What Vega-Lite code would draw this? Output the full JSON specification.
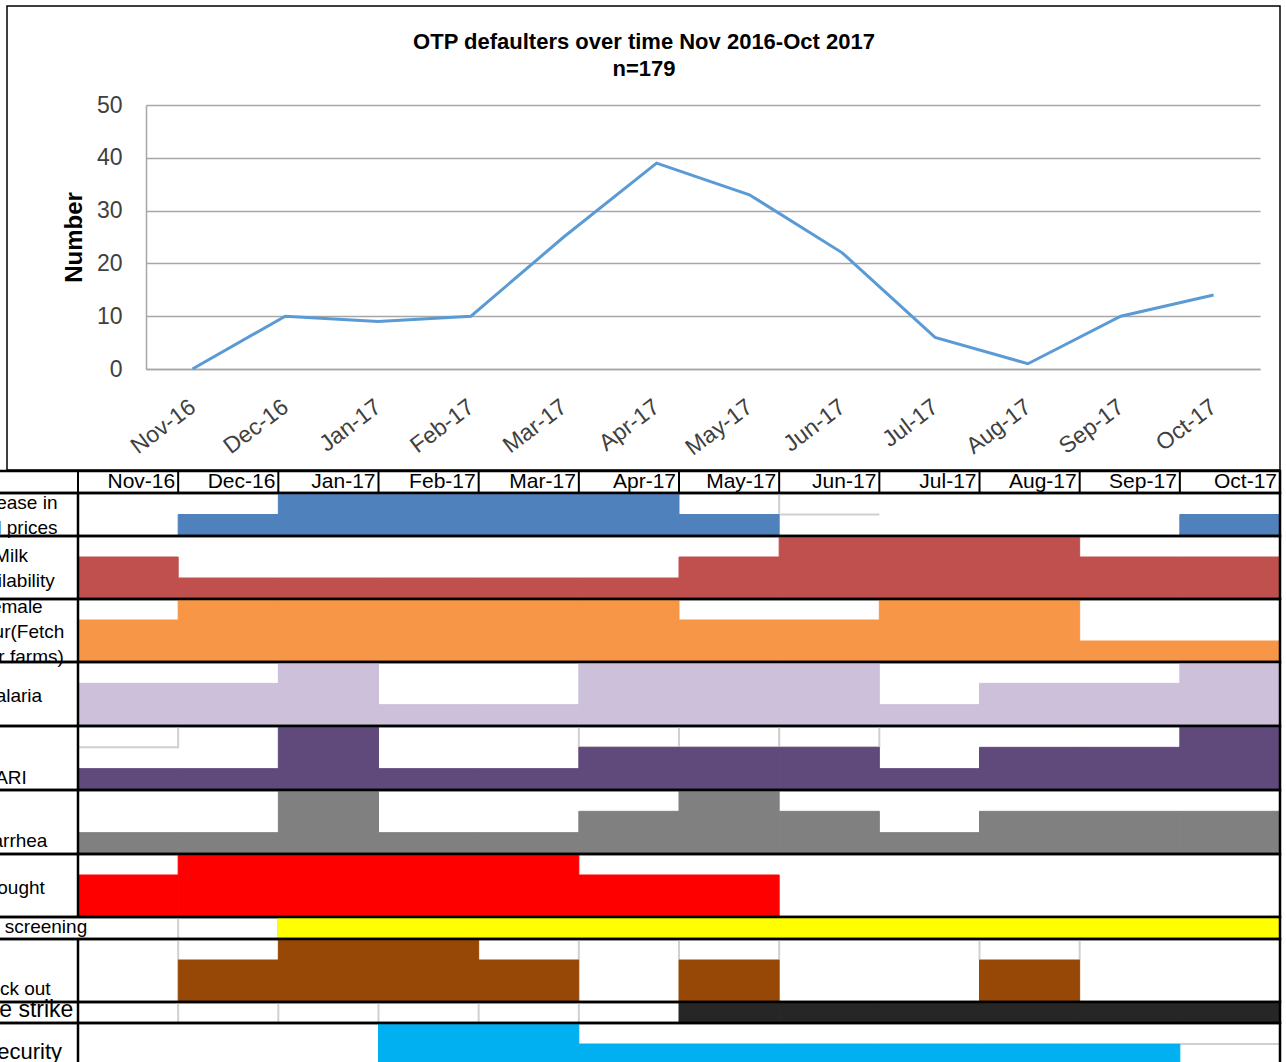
{
  "$schema": "https://vega.github.io/schema/vega-lite/v6.json",
  "width": 1114,
  "height": 264,
  "padding": {"left": 146, "top": 105, "right": 26, "bottom": 693},
  "autosize": {"type": "none"},
  "config": {"view": {"stroke": null}, "font": "Liberation Sans"},
  "title": {
    "text": "OTP defaulters over time Nov 2016-Oct 2017",
    "subtitle": "n=179",
    "anchor": "middle",
    "frame": "group",
    "dx": -59,
    "offset": -76,
    "fontSize": 22,
    "subtitleFontSize": 22,
    "fontWeight": "bold",
    "subtitleFontWeight": "bold",
    "color": "#000",
    "subtitleColor": "#000",
    "subtitlePadding": 5
  },
  "datasets": {
    "defaulters": [
      {"month": "Nov-16", "defaulters": 0},
      {"month": "Dec-16", "defaulters": 10},
      {"month": "Jan-17", "defaulters": 9},
      {"month": "Feb-17", "defaulters": 10},
      {"month": "Mar-17", "defaulters": 25},
      {"month": "Apr-17", "defaulters": 39},
      {"month": "May-17", "defaulters": 33},
      {"month": "Jun-17", "defaulters": 22},
      {"month": "Jul-17", "defaulters": 6},
      {"month": "Aug-17", "defaulters": 1},
      {"month": "Sep-17", "defaulters": 10},
      {"month": "Oct-17", "defaulters": 14}
    ],
    "rows": [
      {"row": "Increase in food prices", "label": "Increase in\nfood prices"},
      {"row": "Milk availability", "label": "Milk\navailability"},
      {"row": "Female labour(Fetch water farms)", "label": "Female\nlabour(Fetch\nwater farms)"},
      {"row": "Malaria", "label": "Malaria"},
      {"row": "ARI", "label": "ARI"},
      {"row": "Diarrhea", "label": "Diarrhea"},
      {"row": "Drought", "label": "Drought"},
      {"row": "Nutrition screening", "label": "Nutrition screening"},
      {"row": "Stock out", "label": "Stock out"},
      {"row": "Nurse strike", "label": "Nurse strike"},
      {"row": "Insecurity", "label": "Insecurity"}
    ],
    "calendar": [
      {"row": "Increase in food prices", "month": "Dec-16", "level": 1},
      {"row": "Increase in food prices", "month": "Jan-17", "level": 2},
      {"row": "Increase in food prices", "month": "Feb-17", "level": 2},
      {"row": "Increase in food prices", "month": "Mar-17", "level": 2},
      {"row": "Increase in food prices", "month": "Apr-17", "level": 2},
      {"row": "Increase in food prices", "month": "May-17", "level": 1},
      {"row": "Increase in food prices", "month": "Oct-17", "level": 1},
      {"row": "Milk availability", "month": "Nov-16", "level": 2},
      {"row": "Milk availability", "month": "Dec-16", "level": 1},
      {"row": "Milk availability", "month": "Jan-17", "level": 1},
      {"row": "Milk availability", "month": "Feb-17", "level": 1},
      {"row": "Milk availability", "month": "Mar-17", "level": 1},
      {"row": "Milk availability", "month": "Apr-17", "level": 1},
      {"row": "Milk availability", "month": "May-17", "level": 2},
      {"row": "Milk availability", "month": "Jun-17", "level": 3},
      {"row": "Milk availability", "month": "Jul-17", "level": 3},
      {"row": "Milk availability", "month": "Aug-17", "level": 3},
      {"row": "Milk availability", "month": "Sep-17", "level": 2},
      {"row": "Milk availability", "month": "Oct-17", "level": 2},
      {"row": "Female labour(Fetch water farms)", "month": "Nov-16", "level": 2},
      {"row": "Female labour(Fetch water farms)", "month": "Dec-16", "level": 3},
      {"row": "Female labour(Fetch water farms)", "month": "Jan-17", "level": 3},
      {"row": "Female labour(Fetch water farms)", "month": "Feb-17", "level": 3},
      {"row": "Female labour(Fetch water farms)", "month": "Mar-17", "level": 3},
      {"row": "Female labour(Fetch water farms)", "month": "Apr-17", "level": 3},
      {"row": "Female labour(Fetch water farms)", "month": "May-17", "level": 2},
      {"row": "Female labour(Fetch water farms)", "month": "Jun-17", "level": 2},
      {"row": "Female labour(Fetch water farms)", "month": "Jul-17", "level": 3},
      {"row": "Female labour(Fetch water farms)", "month": "Aug-17", "level": 3},
      {"row": "Female labour(Fetch water farms)", "month": "Sep-17", "level": 1},
      {"row": "Female labour(Fetch water farms)", "month": "Oct-17", "level": 1},
      {"row": "Malaria", "month": "Nov-16", "level": 2},
      {"row": "Malaria", "month": "Dec-16", "level": 2},
      {"row": "Malaria", "month": "Jan-17", "level": 3},
      {"row": "Malaria", "month": "Feb-17", "level": 1},
      {"row": "Malaria", "month": "Mar-17", "level": 1},
      {"row": "Malaria", "month": "Apr-17", "level": 3},
      {"row": "Malaria", "month": "May-17", "level": 3},
      {"row": "Malaria", "month": "Jun-17", "level": 3},
      {"row": "Malaria", "month": "Jul-17", "level": 1},
      {"row": "Malaria", "month": "Aug-17", "level": 2},
      {"row": "Malaria", "month": "Sep-17", "level": 2},
      {"row": "Malaria", "month": "Oct-17", "level": 3},
      {"row": "ARI", "month": "Nov-16", "level": 1},
      {"row": "ARI", "month": "Dec-16", "level": 1},
      {"row": "ARI", "month": "Jan-17", "level": 3},
      {"row": "ARI", "month": "Feb-17", "level": 1},
      {"row": "ARI", "month": "Mar-17", "level": 1},
      {"row": "ARI", "month": "Apr-17", "level": 2},
      {"row": "ARI", "month": "May-17", "level": 2},
      {"row": "ARI", "month": "Jun-17", "level": 2},
      {"row": "ARI", "month": "Jul-17", "level": 1},
      {"row": "ARI", "month": "Aug-17", "level": 2},
      {"row": "ARI", "month": "Sep-17", "level": 2},
      {"row": "ARI", "month": "Oct-17", "level": 3},
      {"row": "Diarrhea", "month": "Nov-16", "level": 1},
      {"row": "Diarrhea", "month": "Dec-16", "level": 1},
      {"row": "Diarrhea", "month": "Jan-17", "level": 3},
      {"row": "Diarrhea", "month": "Feb-17", "level": 1},
      {"row": "Diarrhea", "month": "Mar-17", "level": 1},
      {"row": "Diarrhea", "month": "Apr-17", "level": 2},
      {"row": "Diarrhea", "month": "May-17", "level": 3},
      {"row": "Diarrhea", "month": "Jun-17", "level": 2},
      {"row": "Diarrhea", "month": "Jul-17", "level": 1},
      {"row": "Diarrhea", "month": "Aug-17", "level": 2},
      {"row": "Diarrhea", "month": "Sep-17", "level": 2},
      {"row": "Diarrhea", "month": "Oct-17", "level": 2},
      {"row": "Drought", "month": "Nov-16", "level": 2},
      {"row": "Drought", "month": "Dec-16", "level": 3},
      {"row": "Drought", "month": "Jan-17", "level": 3},
      {"row": "Drought", "month": "Feb-17", "level": 3},
      {"row": "Drought", "month": "Mar-17", "level": 3},
      {"row": "Drought", "month": "Apr-17", "level": 2},
      {"row": "Drought", "month": "May-17", "level": 2},
      {"row": "Nutrition screening", "month": "Jan-17", "level": 1},
      {"row": "Nutrition screening", "month": "Feb-17", "level": 1},
      {"row": "Nutrition screening", "month": "Mar-17", "level": 1},
      {"row": "Nutrition screening", "month": "Apr-17", "level": 1},
      {"row": "Nutrition screening", "month": "May-17", "level": 1},
      {"row": "Nutrition screening", "month": "Jun-17", "level": 1},
      {"row": "Nutrition screening", "month": "Jul-17", "level": 1},
      {"row": "Nutrition screening", "month": "Aug-17", "level": 1},
      {"row": "Nutrition screening", "month": "Sep-17", "level": 1},
      {"row": "Nutrition screening", "month": "Oct-17", "level": 1},
      {"row": "Stock out", "month": "Dec-16", "level": 2},
      {"row": "Stock out", "month": "Jan-17", "level": 3},
      {"row": "Stock out", "month": "Feb-17", "level": 3},
      {"row": "Stock out", "month": "Mar-17", "level": 2},
      {"row": "Stock out", "month": "May-17", "level": 2},
      {"row": "Stock out", "month": "Aug-17", "level": 2},
      {"row": "Nurse strike", "month": "May-17", "level": 1},
      {"row": "Nurse strike", "month": "Jun-17", "level": 1},
      {"row": "Nurse strike", "month": "Jul-17", "level": 1},
      {"row": "Nurse strike", "month": "Aug-17", "level": 1},
      {"row": "Nurse strike", "month": "Sep-17", "level": 1},
      {"row": "Nurse strike", "month": "Oct-17", "level": 1},
      {"row": "Insecurity", "month": "Feb-17", "level": 3},
      {"row": "Insecurity", "month": "Mar-17", "level": 3},
      {"row": "Insecurity", "month": "Apr-17", "level": 2},
      {"row": "Insecurity", "month": "May-17", "level": 2},
      {"row": "Insecurity", "month": "Jun-17", "level": 2},
      {"row": "Insecurity", "month": "Jul-17", "level": 2},
      {"row": "Insecurity", "month": "Aug-17", "level": 2},
      {"row": "Insecurity", "month": "Sep-17", "level": 2}
    ]
  },
  "resolve": {"scale": {"x": "independent", "y": "independent"}},
  "layer": [
    {
      "data": {"values": [{}]},
      "mark": {"type": "rect", "filled": false, "stroke": "#000", "strokeWidth": 1.5},
      "encoding": {
        "x": {"datum": 0, "scale": {"domain": [0, 1], "range": [-139, 1134]}, "axis": null},
        "x2": {"datum": 1},
        "y": {"datum": 0, "scale": {"domain": [0, 1], "range": [365, -99]}, "axis": null},
        "y2": {"datum": 1}
      }
    },
    {
      "data": {"name": "defaulters"},
      "mark": {"type": "line", "color": "#5b9bd5", "strokeWidth": 3},
      "encoding": {
        "x": {
          "field": "month", "type": "nominal", "sort": null,
          "axis": {
            "orient": "bottom", "title": null, "labelAngle": -37, "labelAlign": "right",
            "labelBaseline": "middle", "labelPadding": 35, "labelFontSize": 23,
            "labelColor": "#404040", "ticks": false, "domainColor": "#a6a6a6",
            "domainWidth": 1.5, "grid": false, "labelOverlap": false
          }
        },
        "y": {
          "field": "defaulters", "type": "quantitative",
          "scale": {"domain": [0, 50]},
          "axis": {
            "orient": "left", "title": "Number", "titleFontSize": 24, "titleFontWeight": "bold",
            "titleColor": "#000", "titlePadding": 10, "labelFontSize": 23, "labelColor": "#404040",
            "labelPadding": 24, "ticks": false, "domainColor": "#a6a6a6", "domainWidth": 1.5,
            "gridColor": "#a6a6a6", "gridWidth": 1.5, "values": [0, 10, 20, 30, 40, 50], "grid": true
          }
        }
      }
    },
    {
      "data": {"name": "defaulters"},
      "layer": [
        {
          "mark": {"type": "text", "align": "right", "baseline": "alphabetic", "dx": -3, "fontSize": 21, "color": "#000"},
          "encoding": {
            "x": {"field": "month", "type": "nominal", "bandPosition": 1, "axis": null,
                  "scale": {"type": "band", "domain": ["Nov-16","Dec-16","Jan-17","Feb-17","Mar-17","Apr-17","May-17","Jun-17","Jul-17","Aug-17","Sep-17","Oct-17"], "range": [-68, 1134], "paddingInner": 0, "paddingOuter": 0}},
            "y": {"datum": 0.23, "scale": {"domain": [0, 1], "range": [388, 366]}, "axis": null},
            "text": {"field": "month"}
          }
        },
        {
          "mark": {"type": "rule", "color": "#000", "strokeWidth": 2},
          "encoding": {
            "x": {"field": "month", "type": "nominal", "bandPosition": 0, "axis": null},
            "y": {"datum": 0, "axis": null},
            "y2": {"datum": 1}
          }
        }
      ]
    },
    {
      "data": {"values": [{}]},
      "mark": {"type": "rect", "filled": false, "stroke": "#000", "strokeWidth": 2.5, "xOffset": -80},
      "encoding": {
        "x": {"datum": "Nov-16", "bandPosition": 0, "axis": null,
              "scale": {"type": "band", "domain": ["Nov-16","Dec-16","Jan-17","Feb-17","Mar-17","Apr-17","May-17","Jun-17","Jul-17","Aug-17","Sep-17","Oct-17"], "range": [-68, 1134], "paddingInner": 0, "paddingOuter": 0}},
        "x2": {"datum": "Oct-17", "bandPosition": 1},
        "y": {"datum": 0, "scale": {"domain": [0, 1], "range": [388, 366]}, "axis": null},
        "y2": {"datum": 1}
      }
    },
    {
      "layer": [
        {
          "data": {"name": "defaulters"},
          "transform": [{"filter": {"field": "month", "oneOf": ["Jun-17"]}}],
          "layer": [
            {
              "mark": {"type": "rule", "color": "#d0d0d0", "strokeWidth": 2},
              "encoding": {
                "x": {"field": "month", "type": "nominal", "bandPosition": 0, "axis": null,
                      "scale": {"type": "band", "domain": ["Nov-16","Dec-16","Jan-17","Feb-17","Mar-17","Apr-17","May-17","Jun-17","Jul-17","Aug-17","Sep-17","Oct-17"], "range": [-68, 1134], "paddingInner": 0, "paddingOuter": 0}},
                "x2": {"field": "month", "bandPosition": 1},
                "y": {"datum": 1, "scale": {"domain": [0, 2], "range": [431, 388]}, "axis": null}
              }
            },
            {
              "mark": {"type": "rule", "color": "#d0d0d0", "strokeWidth": 2},
              "encoding": {
                "x": {"field": "month", "type": "nominal", "bandPosition": 0, "axis": null},
                "y": {"datum": 1, "axis": null},
                "y2": {"datum": 2}
              }
            }
          ]
        },
        {
          "data": {"name": "calendar"},
          "transform": [{"filter": "datum.row === 'Increase in food prices'"}],
          "mark": {"type": "bar", "color": "#4f81bd", "stroke": "#4f81bd", "strokeWidth": 1},
          "encoding": {
            "x": {"field": "month", "type": "nominal", "axis": null},
            "y": {"field": "level", "type": "quantitative", "axis": null},
            "y2": {"datum": 0}
          }
        },
        {
          "data": {"name": "rows"},
          "transform": [{"filter": "datum.row === 'Increase in food prices'"}],
          "layer": [
            {
              "mark": {"type": "text", "align": "center", "baseline": "middle", "dx": -67, "fontSize": 19, "lineBreak": "\n", "lineHeight": 25, "color": "#000"},
              "encoding": {"x": {"datum": "Nov-16", "bandPosition": 0, "axis": null}, "y": {"datum": 1.53, "axis": null}, "text": {"field": "label"}}
            },
            {
              "mark": {"type": "rect", "filled": false, "stroke": "#000", "strokeWidth": 2.5, "xOffset": -80},
              "encoding": {"x": {"datum": "Nov-16", "bandPosition": 0, "axis": null}, "x2": {"datum": "Oct-17", "bandPosition": 1}, "y": {"datum": 0, "axis": null}, "y2": {"datum": 2}}
            },
            {
              "mark": {"type": "rule", "color": "#000", "strokeWidth": 2.5},
              "encoding": {"x": {"datum": "Nov-16", "bandPosition": 0, "axis": null}, "y": {"datum": 0, "axis": null}, "y2": {"datum": 2}}
            }
          ]
        }
      ]
    },
    {
      "layer": [
        {
          "data": {"name": "calendar"},
          "transform": [{"filter": "datum.row === 'Milk availability'"}],
          "mark": {"type": "bar", "color": "#c0504d", "stroke": "#c0504d", "strokeWidth": 1},
          "encoding": {
            "x": {"field": "month", "type": "nominal", "axis": null,
                  "scale": {"type": "band", "domain": ["Nov-16","Dec-16","Jan-17","Feb-17","Mar-17","Apr-17","May-17","Jun-17","Jul-17","Aug-17","Sep-17","Oct-17"], "range": [-68, 1134], "paddingInner": 0, "paddingOuter": 0}},
            "y": {"field": "level", "type": "quantitative", "scale": {"domain": [0, 3], "range": [494, 431]}, "axis": null},
            "y2": {"datum": 0}
          }
        },
        {
          "data": {"name": "rows"},
          "transform": [{"filter": "datum.row === 'Milk availability'"}],
          "layer": [
            {
              "mark": {"type": "text", "align": "center", "baseline": "middle", "dx": -67, "fontSize": 19, "lineBreak": "\n", "lineHeight": 25, "color": "#000"},
              "encoding": {"x": {"datum": "Nov-16", "bandPosition": 0, "axis": null}, "y": {"datum": 2.05, "axis": null}, "text": {"field": "label"}}
            },
            {
              "mark": {"type": "rect", "filled": false, "stroke": "#000", "strokeWidth": 2.5, "xOffset": -80},
              "encoding": {"x": {"datum": "Nov-16", "bandPosition": 0, "axis": null}, "x2": {"datum": "Oct-17", "bandPosition": 1}, "y": {"datum": 0, "axis": null}, "y2": {"datum": 3}}
            },
            {
              "mark": {"type": "rule", "color": "#000", "strokeWidth": 2.5},
              "encoding": {"x": {"datum": "Nov-16", "bandPosition": 0, "axis": null}, "y": {"datum": 0, "axis": null}, "y2": {"datum": 3}}
            }
          ]
        }
      ]
    },
    {
      "layer": [
        {
          "data": {"name": "calendar"},
          "transform": [{"filter": "datum.row === 'Female labour(Fetch water farms)'"}],
          "mark": {"type": "bar", "color": "#f79646", "stroke": "#f79646", "strokeWidth": 1},
          "encoding": {
            "x": {"field": "month", "type": "nominal", "axis": null,
                  "scale": {"type": "band", "domain": ["Nov-16","Dec-16","Jan-17","Feb-17","Mar-17","Apr-17","May-17","Jun-17","Jul-17","Aug-17","Sep-17","Oct-17"], "range": [-68, 1134], "paddingInner": 0, "paddingOuter": 0}},
            "y": {"field": "level", "type": "quantitative", "scale": {"domain": [0, 3], "range": [557, 494]}, "axis": null},
            "y2": {"datum": 0}
          }
        },
        {
          "data": {"name": "rows"},
          "transform": [{"filter": "datum.row === 'Female labour(Fetch water farms)'"}],
          "layer": [
            {
              "mark": {"type": "text", "align": "center", "baseline": "middle", "dx": -67, "fontSize": 19, "lineBreak": "\n", "lineHeight": 25, "color": "#000"},
              "encoding": {"x": {"datum": "Nov-16", "bandPosition": 0, "axis": null}, "y": {"datum": 2.62, "axis": null}, "text": {"field": "label"}}
            },
            {
              "mark": {"type": "rect", "filled": false, "stroke": "#000", "strokeWidth": 2.5, "xOffset": -80},
              "encoding": {"x": {"datum": "Nov-16", "bandPosition": 0, "axis": null}, "x2": {"datum": "Oct-17", "bandPosition": 1}, "y": {"datum": 0, "axis": null}, "y2": {"datum": 3}}
            },
            {
              "mark": {"type": "rule", "color": "#000", "strokeWidth": 2.5},
              "encoding": {"x": {"datum": "Nov-16", "bandPosition": 0, "axis": null}, "y": {"datum": 0, "axis": null}, "y2": {"datum": 3}}
            }
          ]
        }
      ]
    },
    {
      "layer": [
        {
          "data": {"name": "calendar"},
          "transform": [{"filter": "datum.row === 'Malaria'"}],
          "mark": {"type": "bar", "color": "#ccc0da", "stroke": "#ccc0da", "strokeWidth": 1},
          "encoding": {
            "x": {"field": "month", "type": "nominal", "axis": null,
                  "scale": {"type": "band", "domain": ["Nov-16","Dec-16","Jan-17","Feb-17","Mar-17","Apr-17","May-17","Jun-17","Jul-17","Aug-17","Sep-17","Oct-17"], "range": [-68, 1134], "paddingInner": 0, "paddingOuter": 0}},
            "y": {"field": "level", "type": "quantitative", "scale": {"domain": [0, 3], "range": [621, 557]}, "axis": null},
            "y2": {"datum": 0}
          }
        },
        {
          "data": {"name": "rows"},
          "transform": [{"filter": "datum.row === 'Malaria'"}],
          "layer": [
            {
              "mark": {"type": "text", "align": "center", "baseline": "middle", "dx": -67, "fontSize": 19, "lineBreak": "\n", "lineHeight": 25, "color": "#000"},
              "encoding": {"x": {"datum": "Nov-16", "bandPosition": 0, "axis": null}, "y": {"datum": 1.41, "axis": null}, "text": {"field": "label"}}
            },
            {
              "mark": {"type": "rect", "filled": false, "stroke": "#000", "strokeWidth": 2.5, "xOffset": -80},
              "encoding": {"x": {"datum": "Nov-16", "bandPosition": 0, "axis": null}, "x2": {"datum": "Oct-17", "bandPosition": 1}, "y": {"datum": 0, "axis": null}, "y2": {"datum": 3}}
            },
            {
              "mark": {"type": "rule", "color": "#000", "strokeWidth": 2.5},
              "encoding": {"x": {"datum": "Nov-16", "bandPosition": 0, "axis": null}, "y": {"datum": 0, "axis": null}, "y2": {"datum": 3}}
            }
          ]
        }
      ]
    },
    {
      "layer": [
        {
          "data": {"name": "defaulters"},
          "transform": [{"filter": {"field": "month", "oneOf": ["Nov-16", "Apr-17", "May-17", "Jun-17"]}}],
          "mark": {"type": "rect", "filled": false, "stroke": "#d0d0d0", "strokeWidth": 2},
          "encoding": {
            "x": {"field": "month", "type": "nominal", "axis": null,
                  "scale": {"type": "band", "domain": ["Nov-16","Dec-16","Jan-17","Feb-17","Mar-17","Apr-17","May-17","Jun-17","Jul-17","Aug-17","Sep-17","Oct-17"], "range": [-68, 1134], "paddingInner": 0, "paddingOuter": 0}},
            "y": {"datum": 2, "scale": {"domain": [0, 3], "range": [685, 621]}, "axis": null},
            "y2": {"datum": 3}
          }
        },
        {
          "data": {"name": "calendar"},
          "transform": [{"filter": "datum.row === 'ARI'"}],
          "mark": {"type": "bar", "color": "#604a7b", "stroke": "#604a7b", "strokeWidth": 1},
          "encoding": {
            "x": {"field": "month", "type": "nominal", "axis": null},
            "y": {"field": "level", "type": "quantitative", "axis": null},
            "y2": {"datum": 0}
          }
        },
        {
          "data": {"name": "rows"},
          "transform": [{"filter": "datum.row === 'ARI'"}],
          "layer": [
            {
              "mark": {"type": "text", "align": "center", "baseline": "middle", "dx": -67, "fontSize": 19, "lineBreak": "\n", "lineHeight": 25, "color": "#000"},
              "encoding": {"x": {"datum": "Nov-16", "bandPosition": 0, "axis": null}, "y": {"datum": 0.55, "axis": null}, "text": {"field": "label"}}
            },
            {
              "mark": {"type": "rect", "filled": false, "stroke": "#000", "strokeWidth": 2.5, "xOffset": -80},
              "encoding": {"x": {"datum": "Nov-16", "bandPosition": 0, "axis": null}, "x2": {"datum": "Oct-17", "bandPosition": 1}, "y": {"datum": 0, "axis": null}, "y2": {"datum": 3}}
            },
            {
              "mark": {"type": "rule", "color": "#000", "strokeWidth": 2.5},
              "encoding": {"x": {"datum": "Nov-16", "bandPosition": 0, "axis": null}, "y": {"datum": 0, "axis": null}, "y2": {"datum": 3}}
            }
          ]
        }
      ]
    },
    {
      "layer": [
        {
          "data": {"name": "calendar"},
          "transform": [{"filter": "datum.row === 'Diarrhea'"}],
          "mark": {"type": "bar", "color": "#808080", "stroke": "#808080", "strokeWidth": 1},
          "encoding": {
            "x": {"field": "month", "type": "nominal", "axis": null,
                  "scale": {"type": "band", "domain": ["Nov-16","Dec-16","Jan-17","Feb-17","Mar-17","Apr-17","May-17","Jun-17","Jul-17","Aug-17","Sep-17","Oct-17"], "range": [-68, 1134], "paddingInner": 0, "paddingOuter": 0}},
            "y": {"field": "level", "type": "quantitative", "scale": {"domain": [0, 3], "range": [749, 685]}, "axis": null},
            "y2": {"datum": 0}
          }
        },
        {
          "data": {"name": "rows"},
          "transform": [{"filter": "datum.row === 'Diarrhea'"}],
          "layer": [
            {
              "mark": {"type": "text", "align": "center", "baseline": "middle", "dx": -67, "fontSize": 19, "lineBreak": "\n", "lineHeight": 25, "color": "#000"},
              "encoding": {"x": {"datum": "Nov-16", "bandPosition": 0, "axis": null}, "y": {"datum": 0.6, "axis": null}, "text": {"field": "label"}}
            },
            {
              "mark": {"type": "rect", "filled": false, "stroke": "#000", "strokeWidth": 2.5, "xOffset": -80},
              "encoding": {"x": {"datum": "Nov-16", "bandPosition": 0, "axis": null}, "x2": {"datum": "Oct-17", "bandPosition": 1}, "y": {"datum": 0, "axis": null}, "y2": {"datum": 3}}
            },
            {
              "mark": {"type": "rule", "color": "#000", "strokeWidth": 2.5},
              "encoding": {"x": {"datum": "Nov-16", "bandPosition": 0, "axis": null}, "y": {"datum": 0, "axis": null}, "y2": {"datum": 3}}
            }
          ]
        }
      ]
    },
    {
      "layer": [
        {
          "data": {"name": "calendar"},
          "transform": [{"filter": "datum.row === 'Drought'"}],
          "mark": {"type": "bar", "color": "#ff0000", "stroke": "#ff0000", "strokeWidth": 1},
          "encoding": {
            "x": {"field": "month", "type": "nominal", "axis": null,
                  "scale": {"type": "band", "domain": ["Nov-16","Dec-16","Jan-17","Feb-17","Mar-17","Apr-17","May-17","Jun-17","Jul-17","Aug-17","Sep-17","Oct-17"], "range": [-68, 1134], "paddingInner": 0, "paddingOuter": 0}},
            "y": {"field": "level", "type": "quantitative", "scale": {"domain": [0, 3], "range": [812, 749]}, "axis": null},
            "y2": {"datum": 0}
          }
        },
        {
          "data": {"name": "rows"},
          "transform": [{"filter": "datum.row === 'Drought'"}],
          "layer": [
            {
              "mark": {"type": "text", "align": "center", "baseline": "middle", "dx": -67, "fontSize": 19, "lineBreak": "\n", "lineHeight": 25, "color": "#000"},
              "encoding": {"x": {"datum": "Nov-16", "bandPosition": 0, "axis": null}, "y": {"datum": 1.38, "axis": null}, "text": {"field": "label"}}
            },
            {
              "mark": {"type": "rect", "filled": false, "stroke": "#000", "strokeWidth": 2.5, "xOffset": -80},
              "encoding": {"x": {"datum": "Nov-16", "bandPosition": 0, "axis": null}, "x2": {"datum": "Oct-17", "bandPosition": 1}, "y": {"datum": 0, "axis": null}, "y2": {"datum": 3}}
            },
            {
              "mark": {"type": "rule", "color": "#000", "strokeWidth": 2.5},
              "encoding": {"x": {"datum": "Nov-16", "bandPosition": 0, "axis": null}, "y": {"datum": 0, "axis": null}, "y2": {"datum": 3}}
            }
          ]
        }
      ]
    },
    {
      "layer": [
        {
          "data": {"name": "defaulters"},
          "transform": [{"filter": {"field": "month", "oneOf": ["Dec-16", "Jan-17"]}}],
          "mark": {"type": "rule", "color": "#d0d0d0", "strokeWidth": 2},
          "encoding": {
            "x": {"field": "month", "type": "nominal", "bandPosition": 0, "axis": null,
                  "scale": {"type": "band", "domain": ["Nov-16","Dec-16","Jan-17","Feb-17","Mar-17","Apr-17","May-17","Jun-17","Jul-17","Aug-17","Sep-17","Oct-17"], "range": [-68, 1134], "paddingInner": 0, "paddingOuter": 0}},
            "y": {"datum": 0, "axis": null, "scale": {"domain": [0, 1], "range": [834, 812]}},
            "y2": {"datum": 1}
          }
        },
        {
          "data": {"name": "calendar"},
          "transform": [{"filter": "datum.row === 'Nutrition screening'"}],
          "mark": {"type": "bar", "color": "#ffff00", "stroke": "#ffff00", "strokeWidth": 1},
          "encoding": {
            "x": {"field": "month", "type": "nominal", "axis": null},
            "y": {"field": "level", "type": "quantitative", "axis": null},
            "y2": {"datum": 0}
          }
        },
        {
          "data": {"name": "rows"},
          "transform": [{"filter": "datum.row === 'Nutrition screening'"}],
          "layer": [
            {
              "mark": {"type": "text", "align": "center", "baseline": "middle", "dx": -70, "fontSize": 19, "lineBreak": "\n", "lineHeight": 25, "color": "#000"},
              "encoding": {"x": {"datum": "Nov-16", "bandPosition": 0, "axis": null}, "y": {"datum": 0.55, "axis": null}, "text": {"field": "label"}}
            },
            {
              "mark": {"type": "rect", "filled": false, "stroke": "#000", "strokeWidth": 2.5, "xOffset": -80},
              "encoding": {"x": {"datum": "Nov-16", "bandPosition": 0, "axis": null}, "x2": {"datum": "Oct-17", "bandPosition": 1}, "y": {"datum": 0, "axis": null}, "y2": {"datum": 1}}
            }
          ]
        }
      ]
    },
    {
      "layer": [
        {
          "data": {"name": "defaulters"},
          "transform": [{"filter": {"field": "month", "oneOf": ["Dec-16", "Apr-17", "May-17", "Jun-17", "Aug-17", "Sep-17"]}}],
          "mark": {"type": "rule", "color": "#d0d0d0", "strokeWidth": 2},
          "encoding": {
            "x": {"field": "month", "type": "nominal", "bandPosition": 0, "axis": null,
                  "scale": {"type": "band", "domain": ["Nov-16","Dec-16","Jan-17","Feb-17","Mar-17","Apr-17","May-17","Jun-17","Jul-17","Aug-17","Sep-17","Oct-17"], "range": [-68, 1134], "paddingInner": 0, "paddingOuter": 0}},
            "y": {"datum": 2, "axis": null, "scale": {"domain": [0, 3], "range": [897, 834]}},
            "y2": {"datum": 3}
          }
        },
        {
          "data": {"name": "calendar"},
          "transform": [{"filter": "datum.row === 'Stock out'"}],
          "mark": {"type": "bar", "color": "#974806", "stroke": "#974806", "strokeWidth": 1},
          "encoding": {
            "x": {"field": "month", "type": "nominal", "axis": null},
            "y": {"field": "level", "type": "quantitative", "axis": null},
            "y2": {"datum": 0}
          }
        },
        {
          "data": {"name": "rows"},
          "transform": [{"filter": "datum.row === 'Stock out'"}],
          "layer": [
            {
              "mark": {"type": "text", "align": "center", "baseline": "middle", "dx": -67, "fontSize": 19, "lineBreak": "\n", "lineHeight": 25, "color": "#000"},
              "encoding": {"x": {"datum": "Nov-16", "bandPosition": 0, "axis": null}, "y": {"datum": 0.6, "axis": null}, "text": {"field": "label"}}
            },
            {
              "mark": {"type": "rect", "filled": false, "stroke": "#000", "strokeWidth": 2.5, "xOffset": -80},
              "encoding": {"x": {"datum": "Nov-16", "bandPosition": 0, "axis": null}, "x2": {"datum": "Oct-17", "bandPosition": 1}, "y": {"datum": 0, "axis": null}, "y2": {"datum": 3}}
            },
            {
              "mark": {"type": "rule", "color": "#000", "strokeWidth": 2.5},
              "encoding": {"x": {"datum": "Nov-16", "bandPosition": 0, "axis": null}, "y": {"datum": 0, "axis": null}, "y2": {"datum": 3}}
            }
          ]
        }
      ]
    },
    {
      "layer": [
        {
          "data": {"name": "defaulters"},
          "transform": [{"filter": {"field": "month", "oneOf": ["Dec-16", "Jan-17", "Feb-17", "Mar-17", "Apr-17"]}}],
          "mark": {"type": "rule", "color": "#d0d0d0", "strokeWidth": 2},
          "encoding": {
            "x": {"field": "month", "type": "nominal", "bandPosition": 0, "axis": null,
                  "scale": {"type": "band", "domain": ["Nov-16","Dec-16","Jan-17","Feb-17","Mar-17","Apr-17","May-17","Jun-17","Jul-17","Aug-17","Sep-17","Oct-17"], "range": [-68, 1134], "paddingInner": 0, "paddingOuter": 0}},
            "y": {"datum": 0, "axis": null, "scale": {"domain": [0, 1], "range": [918, 897]}},
            "y2": {"datum": 1}
          }
        },
        {
          "data": {"name": "calendar"},
          "transform": [{"filter": "datum.row === 'Nurse strike'"}],
          "mark": {"type": "bar", "color": "#262626", "stroke": "#262626", "strokeWidth": 1},
          "encoding": {
            "x": {"field": "month", "type": "nominal", "axis": null},
            "y": {"field": "level", "type": "quantitative", "axis": null},
            "y2": {"datum": 0}
          }
        },
        {
          "data": {"name": "rows"},
          "transform": [{"filter": "datum.row === 'Nurse strike'"}],
          "layer": [
            {
              "mark": {"type": "text", "align": "center", "baseline": "middle", "dx": -66, "fontSize": 23, "color": "#000"},
              "encoding": {"x": {"datum": "Nov-16", "bandPosition": 0, "axis": null}, "y": {"datum": 0.6, "axis": null}, "text": {"field": "label"}}
            },
            {
              "mark": {"type": "rect", "filled": false, "stroke": "#000", "strokeWidth": 2.5, "xOffset": -80},
              "encoding": {"x": {"datum": "Nov-16", "bandPosition": 0, "axis": null}, "x2": {"datum": "Oct-17", "bandPosition": 1}, "y": {"datum": 0, "axis": null}, "y2": {"datum": 1}}
            },
            {
              "mark": {"type": "rule", "color": "#000", "strokeWidth": 2.5},
              "encoding": {"x": {"datum": "Nov-16", "bandPosition": 0, "axis": null}, "y": {"datum": 0, "axis": null}, "y2": {"datum": 1}}
            }
          ]
        }
      ]
    },
    {
      "layer": [
        {
          "data": {"name": "defaulters"},
          "transform": [{"filter": {"field": "month", "oneOf": ["Oct-17"]}}],
          "mark": {"type": "rule", "color": "#d0d0d0", "strokeWidth": 2},
          "encoding": {
            "x": {"field": "month", "type": "nominal", "bandPosition": 0, "axis": null,
                  "scale": {"type": "band", "domain": ["Nov-16","Dec-16","Jan-17","Feb-17","Mar-17","Apr-17","May-17","Jun-17","Jul-17","Aug-17","Sep-17","Oct-17"], "range": [-68, 1134], "paddingInner": 0, "paddingOuter": 0}},
            "x2": {"field": "month", "bandPosition": 1},
            "y": {"datum": 2, "axis": null, "scale": {"domain": [0, 3], "range": [981, 918]}}
          }
        },
        {
          "data": {"name": "calendar"},
          "transform": [{"filter": "datum.row === 'Insecurity'"}],
          "mark": {"type": "bar", "color": "#00b0f0", "stroke": "#00b0f0", "strokeWidth": 1},
          "encoding": {
            "x": {"field": "month", "type": "nominal", "axis": null},
            "y": {"field": "level", "type": "quantitative", "axis": null},
            "y2": {"datum": 0}
          }
        },
        {
          "data": {"name": "rows"},
          "transform": [{"filter": "datum.row === 'Insecurity'"}],
          "layer": [
            {
              "mark": {"type": "text", "align": "center", "baseline": "middle", "dx": -63, "fontSize": 22, "color": "#000"},
              "encoding": {"x": {"datum": "Nov-16", "bandPosition": 0, "axis": null}, "y": {"datum": 1.62, "axis": null}, "text": {"field": "label"}}
            },
            {
              "mark": {"type": "rect", "filled": false, "stroke": "#000", "strokeWidth": 2.5, "xOffset": -80},
              "encoding": {"x": {"datum": "Nov-16", "bandPosition": 0, "axis": null}, "x2": {"datum": "Oct-17", "bandPosition": 1}, "y": {"datum": 0, "axis": null}, "y2": {"datum": 3}}
            },
            {
              "mark": {"type": "rule", "color": "#000", "strokeWidth": 2.5},
              "encoding": {"x": {"datum": "Nov-16", "bandPosition": 0, "axis": null}, "y": {"datum": 0, "axis": null}, "y2": {"datum": 3}}
            }
          ]
        }
      ]
    }
  ]
}
